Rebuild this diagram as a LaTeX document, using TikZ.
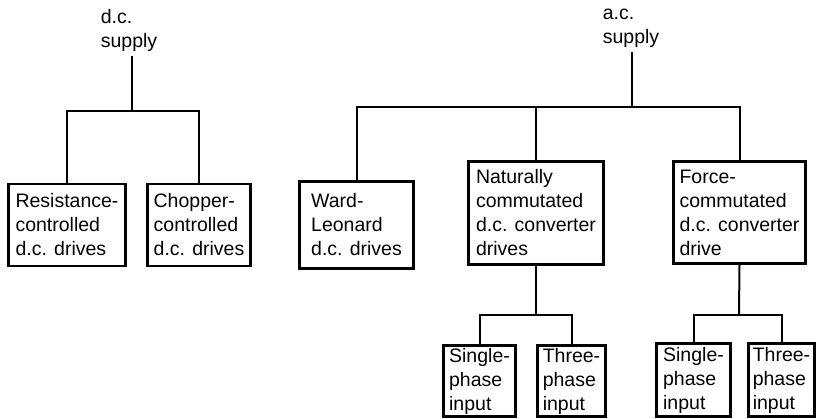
\documentclass[tikz,border=0pt]{standalone}
\usepackage{fontspec}
\setmainfont{Liberation Sans}
\usetikzlibrary{positioning}
\tikzset{
  dbox/.style={draw,line width=2.8pt,align=left,inner sep=2pt,font=\fontsize{19.5}{24}\selectfont},
  slabel/.style={align=left,inner xsep=2pt,inner ysep=5pt,font=\fontsize{19.5}{24}\selectfont},
  link/.style={line width=2pt}
}

\begin{document}
\begin{tikzpicture}[x=1pt,y=-1pt]
\useasboundingbox (0,0) rectangle (817,419);
% d.c. supply branch
\node[slabel] (dc) at (129,30) {d.c.\\supply};
\coordinate (dcj) at (132,111);
\node[dbox,minimum width=117pt,minimum height=82pt] (res) at (67,225) {Resistance-\\controlled\\d.c. drives};
\node[dbox,minimum width=103pt,minimum height=82pt] (chop) at (199,225) {Chopper-\\controlled\\d.c. drives};
\draw[link] (dcj |- dc.south) -- (dcj);
\draw[link] (res.north) |- (dcj) -| (chop.north);
% a.c. supply branch
\node[slabel] (ac) at (631,28) {a.c.\\supply};
\coordinate (acj) at (632,107);
\node[dbox,minimum width=114pt,minimum height=87pt] (ward) at (356.5,225) {Ward-\\Leonard\\d.c. drives};
\node[dbox,minimum width=135pt,minimum height=103pt] (nat) at (536,213) {Naturally\\commutated\\d.c. converter\\drives};
\node[dbox,minimum width=132pt,minimum height=102pt] (force) at (739.5,212.5) {Force-\\commutated\\d.c. converter\\drive};
\draw[link] (acj |- ac.south) -- (acj);
\draw[link] (ward.north) |- (acj) -| (force.north);
\draw[link] (nat.north) -- (nat.north |- acj);
% converter inputs
\coordinate (natj) at (536,315);
\coordinate (forcej) at (739,315);
\node[dbox,minimum width=72pt,minimum height=71pt] (sin1) at (479.5,381) {Single-\\phase\\input};
\node[dbox,minimum width=68pt,minimum height=71pt] (thr1) at (571.5,381) {Three-\\phase\\input};
\node[dbox,minimum width=74pt,minimum height=73pt] (sin2) at (693.5,380) {Single-\\phase\\input};
\node[dbox,minimum width=66pt,minimum height=73pt] (thr2) at (781.5,380) {Three-\\phase\\input};
\draw[link] (nat.south) -- (natj);
\draw[link] (sin1.north) |- (natj) -| (thr1.north);
\draw[link] (force.south) -- (forcej);
\draw[link] (sin2.north) |- (forcej) -| (thr2.north);
\end{tikzpicture}
\end{document}
